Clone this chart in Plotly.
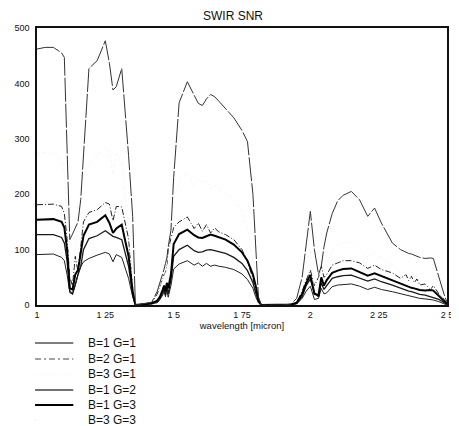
import plotly.graph_objects as go

# ---------------- data ----------------
wavelength = [
    1.00, 1.03, 1.06, 1.09, 1.10, 1.11, 1.12, 1.13, 1.14, 1.15, 1.16, 1.17, 1.19, 1.22, 1.25, 1.265, 1.278, 1.29, 1.31, 1.335, 1.35, 1.36,
    1.38, 1.40, 1.42, 1.44, 1.45, 1.46, 1.465, 1.47, 1.475, 1.48, 1.49, 1.50, 1.52, 1.55, 1.575, 1.59, 1.605, 1.62, 1.635, 1.65, 1.665, 1.69, 1.72, 1.75, 1.77, 1.79, 1.80, 1.81, 1.82,
    1.85, 1.90, 1.93, 1.95, 1.97, 1.985, 2.00, 2.015, 2.03, 2.04, 2.05, 2.06, 2.08, 2.10, 2.12, 2.15, 2.18, 2.21, 2.235, 2.26, 2.30, 2.33, 2.35, 2.36, 2.37, 2.38, 2.39, 2.40, 2.42, 2.44, 2.45, 2.47, 2.49, 2.50,
]

snr_b1_g1 = [
    91, 92, 92, 86, 80, 55, 22, 20, 35, 55, 69, 78, 84, 90, 95, 92, 78, 91, 86, 48, 15, 0,
    1, 1, 2, 4, 10, 18, 25, 15, 28, 14, 35, 65, 74, 80, 72, 76, 70, 75, 70, 72, 70, 68, 64, 56, 46, 30, 15, 4, 0,
    0, 0, 1, 2, 12, 25, 34, 10, 12, 30, 20, 22, 33, 36, 37, 38, 34, 28, 32, 28, 24, 20, 18, 17, 16, 14, 13, 12, 11, 10, 9, 6, 2, 0,
]

snr_b2_g1 = [
    181, 182, 182, 178, 165, 120, 50, 35, 88, 60, 100, 150, 167, 172, 185, 182, 152, 178, 177, 120, 30, 0,
    1, 2, 4, 20, 35, 50, 55, 60, 70, 100, 118, 140, 150, 159, 138, 148, 133, 145, 130, 139, 132, 127, 118, 100, 78, 48, 25, 6, 0,
    0, 0, 1, 5, 25, 45, 63, 35, 50, 70, 50, 55, 72, 76, 80, 80, 76, 66, 72, 64, 58, 48, 55, 44, 52, 40, 47, 36, 38, 28, 35, 20, 10, 3,
]

snr_b3_g1 = [
    273, 276, 276, 258, 240, 165, 66, 60, 105, 165, 207, 234, 252, 270, 285, 276, 234, 273, 258, 144, 45, 0,
    3, 3, 6, 12, 30, 54, 75, 45, 84, 42, 105, 195, 222, 240, 216, 228, 219, 225, 210, 216, 210, 200, 192, 168, 138, 90, 45, 12, 0,
    0, 0, 3, 6, 36, 75, 102, 30, 36, 90, 60, 66, 99, 108, 111, 114, 102, 84, 96, 84, 72, 60, 54, 51, 48, 42, 39, 36, 33, 30, 27, 18, 6, 0,
]

snr_b1_g2 = [
    127, 127, 127, 122, 112, 80, 25, 20, 40, 55, 70, 100, 120, 125, 134, 128, 124, 122, 118, 70, 18, 0,
    1, 1, 2, 6, 12, 22, 30, 18, 35, 20, 45, 88, 100, 108, 98, 95, 96, 99, 100, 98, 96, 93, 86, 75, 62, 40, 22, 6, 0,
    0, 0, 1, 3, 15, 35, 47, 22, 15, 40, 28, 35, 48, 51, 53, 54, 49, 43, 47, 42, 36, 30, 27, 25, 24, 22, 21, 19, 18, 15, 14, 10, 4, 1,
]

snr_b1_g3 = [
    154, 155, 155, 150, 140, 100, 30, 28, 55, 63, 95, 125, 145, 150, 162, 148, 130, 138, 145, 88, 25, 0,
    1, 2, 3, 8, 15, 28, 35, 25, 40, 30, 55, 110, 128, 136, 126, 122, 121, 124, 127, 125, 122, 118, 109, 95, 80, 55, 35, 10, 0,
    0, 0, 1, 4, 20, 40, 54, 20, 18, 50, 35, 45, 58, 62, 65, 66, 60, 53, 57, 52, 44, 38, 35, 33, 31, 30, 28, 27, 26, 27, 26, 16, 6, 2,
]

snr_b3_g3 = [
    462, 465, 465, 455, 447, 300, 118, 128, 138, 150, 190, 275, 427, 441, 477, 436, 388, 394, 427, 270, 160, 0,
    2, 3, 5, 25, 40, 55, 65, 75, 85, 105, 135, 230, 365, 403, 378, 364, 360, 372, 380, 376, 368, 355, 338, 315, 295, 200, 110, 15, 0,
    0, 0, 2, 12, 50, 110, 169, 100, 55, 70, 105, 130, 165, 188, 198, 205, 190, 160, 175, 148, 112, 100, 95, 93, 92, 90, 88, 86, 84, 85, 84, 50, 18, 5,
]

series_names = ["B=1 G=1", "B=2 G=1", "B=3 G=1", "B=1 G=2", "B=1 G=3", "B=3 G=3"]
x_tick_vals = [1, 1.25, 1.5, 1.75, 2, 2.25, 2.5]
x_tick_text = ["1", "1 25", "1 5", "1 75", "2", "2 25", "2 5"]
y_tick_vals = [0, 100, 200, 300, 400, 500]

# ---------------- layout / styles ----------------
# the page body has an 8px default margin, so the figure is laid out
# in window pixels minus that offset
OFF = 8
WIN_W, WIN_H = 459, 426
W, H = WIN_W - OFF, WIN_H - OFF
PLOT_L, PLOT_R, PLOT_T, PLOT_B = 35, 453, 28, 305      # window pixels
ML, MT = PLOT_L - OFF, PLOT_T - OFF
MR, MB = WIN_W - PLOT_R, WIN_H - PLOT_B
FONT = "Liberation Sans, Arial, Helvetica, sans-serif"

plot_styles = [
    dict(color="#222222", width=1),
    dict(color="#222222", width=1, dash="6px,2px,1px,2px"),
    dict(color="#f6f6f6", width=1, dash="dot"),
    dict(color="#1a1a1a", width=1.3),
    dict(color="#000000", width=2),
    dict(color="#333333", width=1, dash="24px,2px"),
]
legend_styles = [
    dict(color="#555555", width=1.5),
    dict(color="#444444", width=1, dash="6px,3px,2px,3px"),
    dict(color="#f8f8f8", width=1, dash="dot"),
    dict(color="#444444", width=1.5),
    dict(color="#000000", width=2),
    dict(color="#dddddd", width=1, dash="1px,40px"),
]
series_values = [snr_b1_g1, snr_b2_g1, snr_b3_g1, snr_b1_g2, snr_b1_g3, snr_b3_g3]

fig = go.Figure()
for name, ys, st in zip(series_names, series_values, plot_styles):
    fig.add_trace(go.Scatter(x=wavelength, y=ys, mode="lines", name=name,
                             line=st, showlegend=False, hoverinfo="skip"))

pw = PLOT_R - PLOT_L
ph = PLOT_B - PLOT_T


def px(x):
    return (x - PLOT_L) / pw


def py(y):
    return (PLOT_B - y) / ph


legend_rows = [343, 359, 374, 390, 405, 420]
shapes = []
annotations = []
for name, st, row in zip(series_names, legend_styles, legend_rows):
    shapes.append(dict(type="line", xref="paper", yref="paper",
                       x0=px(33), x1=px(72), y0=py(row), y1=py(row), line=st))
    annotations.append(dict(xref="paper", yref="paper", x=px(85), y=py(row),
                            xanchor="left", yanchor="middle", showarrow=False,
                            text=name, font=dict(family=FONT, size=12, color="#111")))

fig.update_layout(
    width=W, height=H,
    margin=dict(l=ML, r=MR, t=MT, b=MB, pad=0),
    paper_bgcolor="white", plot_bgcolor="white",
    font=dict(family=FONT, color="#111"),
    title=dict(text="SWIR SNR", x=(233 - OFF) / W, y=1 - (16 - OFF) / H,
               xanchor="center", yanchor="middle",
               font=dict(family=FONT, size=12, color="#111")),
    shapes=shapes,
    annotations=annotations,
    showlegend=False,
)
fig.update_xaxes(range=[1, 2.5], tickvals=x_tick_vals, ticktext=x_tick_text,
                 showgrid=False, zeroline=False, showline=True, mirror=True,
                 linecolor="#111", linewidth=1.5, ticks="",
                 tickfont=dict(family=FONT, size=9, color="#111"),
                 title=dict(text="wavelength [micron]", standoff=4,
                            font=dict(family=FONT, size=9.5, color="#111")))
fig.update_yaxes(range=[0, 500], tickvals=y_tick_vals,
                 showgrid=False, zeroline=False, showline=True, mirror=True,
                 linecolor="#111", linewidth=1.5, ticks="",
                 ticklabelstandoff=4,
                 tickfont=dict(family=FONT, size=9, color="#111"))

fig.write_html("out.html")
